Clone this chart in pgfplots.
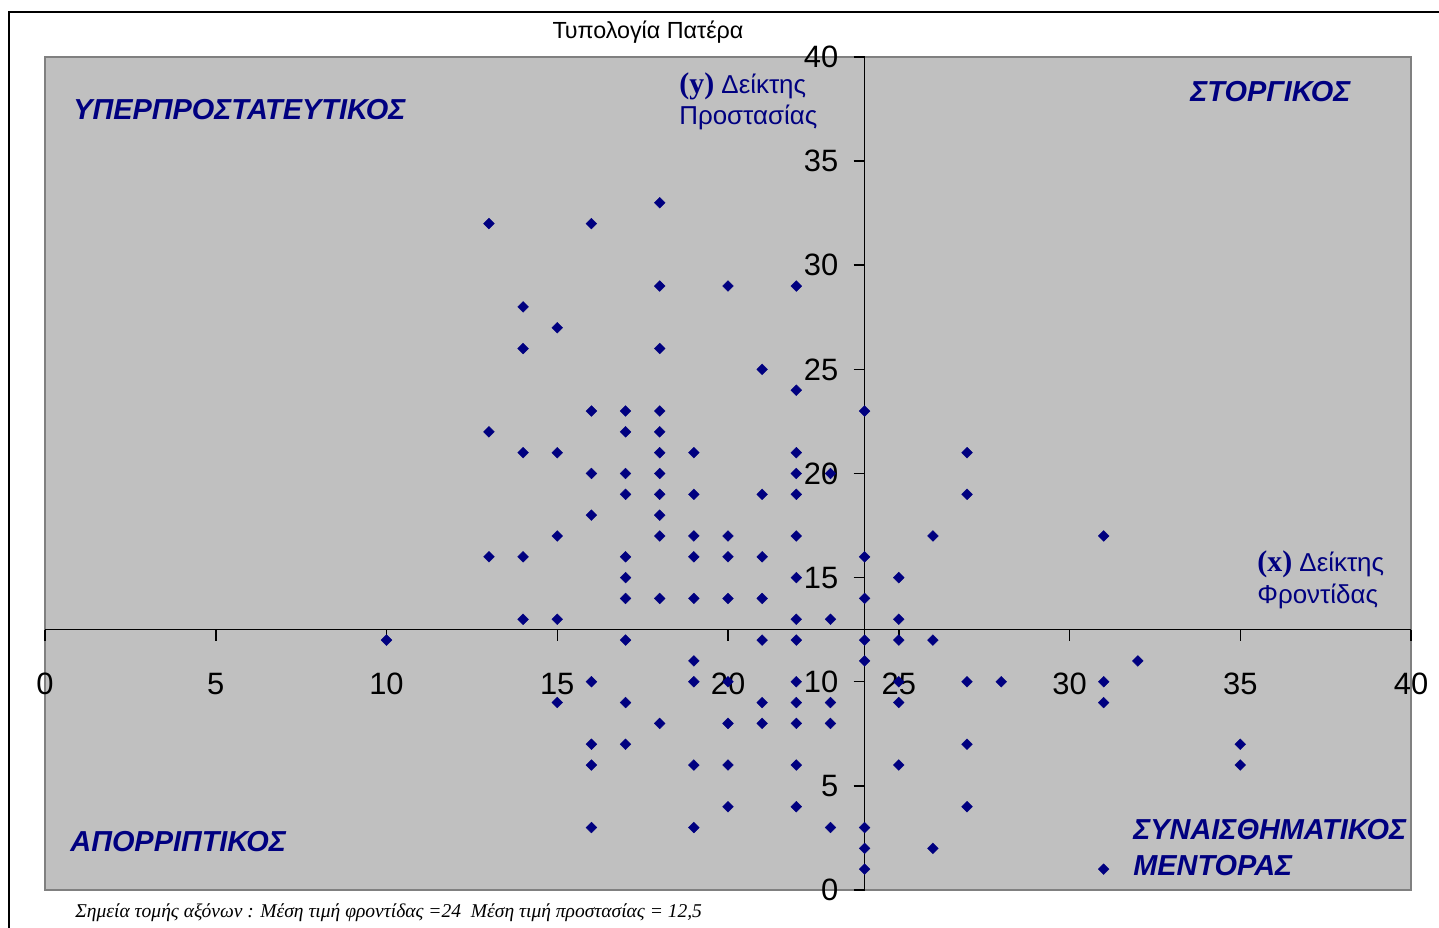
\documentclass[border=0pt]{standalone}
\usepackage{fontspec}
\setmainfont{Liberation Sans}
\newfontfamily\timesf{Liberation Serif}
\usepackage{pgfplots}
\pgfplotsset{compat=1.18}
\definecolor{plotgray}{HTML}{C0C0C0}
\definecolor{navyc}{HTML}{000080}
\begin{document}
\begin{tikzpicture}
\useasboundingbox (-22.5bp,-19bp) rectangle (697bp,445bp);
\fill[white] (-22.5bp,-19bp) rectangle (697bp,445bp);
\draw[black, line width=1bp] (-17.75bp,-19bp) -- (-17.75bp,439bp) -- (697bp,439bp);
\begin{axis}[
  at={(0,0)}, anchor=south west,
  scale only axis, width=683bp, height=416.5bp,
  xmin=0, xmax=40, ymin=0, ymax=40,
  axis background/.style={fill=plotgray, draw=gray, line width=0.75bp},
  axis x line*=bottom, axis y line*=left,
  axis x line shift=-130.1625bp, axis y line shift=-409.8bp,
  xtick={0,5,...,40}, ytick={0,5,...,40},
  tick pos=left,
  tick align=outside, major tick length=5.5bp,
  axis line style={black, line width=0.75bp},
  tick style={black, line width=0.75bp},
  tick label style={font=\fontsize{15.5}{15.5}\selectfont},
  /pgf/number format/assume math mode=true,
  xticklabel style={anchor=north, inner sep=0pt, yshift=-16bp},
  yticklabel style={anchor=east, inner sep=0pt, xshift=-7.5bp},
]
\addplot[only marks, mark=square*, mark size=1.9bp,
  mark options={rotate=45, fill=navyc, draw=navyc, line width=0.2bp}]
coordinates {
(10,12)
(13,32)(13,22)(13,16)
(14,28)(14,26)(14,21)(14,16)(14,13)
(15,27)(15,21)(15,17)(15,13)(15,9)
(16,32)(16,23)(16,20)(16,18)(16,10)(16,7)(16,6)(16,3)
(17,23)(17,22)(17,20)(17,19)(17,16)(17,15)(17,14)(17,12)(17,9)(17,7)
(18,33)(18,29)(18,26)(18,23)(18,22)(18,21)(18,20)(18,19)(18,18)(18,17)(18,14)(18,8)
(19,21)(19,19)(19,17)(19,16)(19,14)(19,11)(19,10)(19,6)(19,3)
(20,29)(20,17)(20,16)(20,14)(20,10)(20,8)(20,6)(20,4)
(21,25)(21,19)(21,16)(21,14)(21,12)(21,9)(21,8)
(22,29)(22,24)(22,21)(22,20)(22,19)(22,17)(22,15)(22,13)(22,12)(22,10)(22,9)(22,8)(22,6)(22,4)
(23,20)(23,13)(23,9)(23,8)(23,3)
(24,23)(24,16)(24,14)(24,12)(24,11)(24,3)(24,2)(24,1)
(25,15)(25,13)(25,12)(25,10)(25,9)(25,6)
(26,17)(26,12)(26,2)
(27,21)(27,19)(27,10)(27,7)(27,4)
(28,10)
(31,17)(31,10)(31,9)(31,1)
(32,11)
(35,7)(35,6)
};
\end{axis}
\node[font=\fontsize{11.7}{11.7}\selectfont] at (301.5bp,429bp) {Τυπολογία Πατέρα};
\begin{scope}[every node/.style={anchor=west, inner sep=0pt, text=navyc, font=\fontsize{14.5}{14.5}\selectfont\bfseries\itshape}]
\node at (14bp,390bp) {ΥΠΕΡΠΡΟΣΤΑΤΕΥΤΙΚΟΣ};
\node at (572.5bp,399bp) {ΣΤΟΡΓΙΚΟΣ};
\node at (12.5bp,24bp) {ΑΠΟΡΡΙΠΤΙΚΟΣ};
\node at (544bp,30bp) {ΣΥΝΑΙΣΘΗΜΑΤΙΚΟΣ};
\node at (544bp,12bp) {ΜΕΝΤΟΡΑΣ};
\end{scope}
\begin{scope}[every node/.style={anchor=west, inner sep=0pt, text=navyc, font=\fontsize{13}{13}\selectfont}]
\node at (317bp,402bp) {{\timesf\bfseries\fontsize{15}{15}\selectfont (y)} Δείκτης};
\node at (317bp,386.5bp) {Προστασίας};
\node at (606bp,163bp) {{\timesf\bfseries\fontsize{15}{15}\selectfont (x)} Δείκτης};
\node at (606bp,147bp) {Φροντίδας};
\end{scope}
\node[anchor=west, inner sep=0pt, font=\timesf\itshape\fontsize{9.8}{9.8}\selectfont] at (15bp,-11.5bp) {Σημεία τομής αξόνων : Μέση τιμή φροντίδας =24 \ Μέση τιμή προστασίας = 12,5};
\end{tikzpicture}
\end{document}
